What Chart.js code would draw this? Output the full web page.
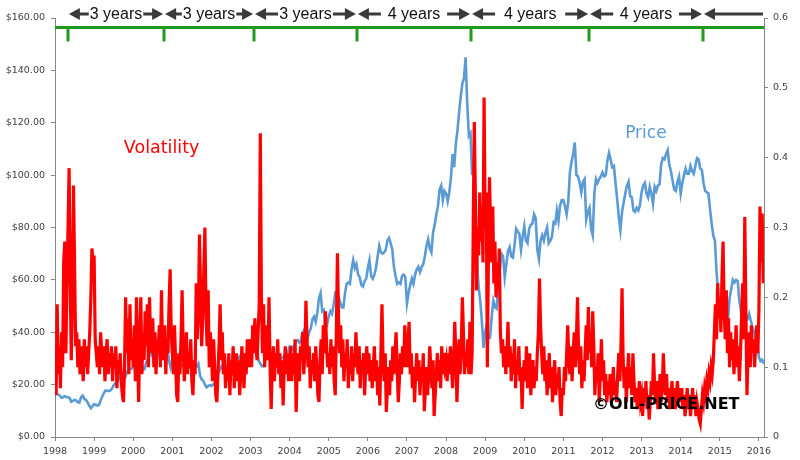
<!DOCTYPE html>
<html><head><meta charset="utf-8">
<script src="https://cdn.jsdelivr.net/npm/chart.js@4.4.1/dist/chart.umd.min.js"></script>
<style>html,body{margin:0;padding:0;background:#fff}#wrap{width:800px;height:460px}</style>
</head><body><div id="wrap"><canvas id="c" width="800" height="460"></canvas></div>
<script>
// ---- data ----
const startYear = 1998;
const endYear = 2016.13;
const pricePerYear = 24;   // semi-monthly samples
const volPerYear = 36;     // ~10-day samples

const priceValues = [
 17.5,16.5,16.2,15.8,15.0,15.2,15.6,15.3,15.2,14.8,13.5,13.8,14.2,14.0,13.3,13.2,15.2,15.8,14.5,14.2,13.2,12.0,11.0,11.8,
 12.5,12.3,12.0,12.2,14.0,15.5,16.8,17.8,17.7,17.5,17.8,18.5,19.8,20.5,21.0,21.8,23.5,24.2,22.0,22.5,24.5,25.8,26.2,26.0,
 26.8,28.0,29.5,30.0,31.5,28.0,25.5,26.0,28.5,29.5,31.5,32.0,30.5,28.5,31.0,32.0,35.0,32.5,33.0,33.5,34.5,34.0,29.0,26.5,
 29.5,29.8,29.5,27.5,27.0,26.5,27.5,28.0,28.5,28.2,27.8,26.5,26.5,26.2,27.5,27.0,28.0,23.5,22.0,21.5,20.0,19.0,19.5,19.8,
 19.5,20.0,20.5,21.2,24.0,25.5,26.8,26.0,27.5,26.5,25.5,26.0,27.0,27.0,28.0,29.0,29.5,30.5,29.0,27.5,26.5,26.5,28.5,31.0,
 32.0,34.0,35.5,37.5,35.0,29.0,28.0,27.0,27.0,29.5,30.5,30.0,31.0,30.5,31.5,31.5,28.5,27.5,30.5,30.0,30.5,31.0,31.5,32.5,
 34.5,34.5,33.5,35.0,36.5,37.0,36.0,37.0,40.0,41.0,38.5,37.5,40.0,41.5,45.0,46.0,44.0,47.5,53.0,55.0,48.0,48.5,41.5,43.0,
 46.0,48.0,47.0,50.5,55.0,54.5,53.5,51.5,49.5,49.5,55.0,58.5,59.0,58.5,64.0,67.5,64.5,66.0,62.0,61.0,58.0,57.5,59.5,60.5,
 64.5,67.5,61.5,60.5,62.0,64.5,69.0,73.0,70.5,70.0,70.5,71.5,75.0,76.0,74.0,71.5,65.0,61.5,58.5,59.0,58.5,61.5,62.0,61.0,
 51.0,55.0,58.0,60.5,58.5,62.0,64.0,65.0,63.0,65.0,66.0,69.0,73.0,75.5,72.0,70.5,78.0,81.0,85.0,88.0,94.5,96.0,90.5,94.0,
 93.0,90.0,93.5,99.0,108.0,103.0,112.0,117.0,124.0,130.0,135.0,137.0,145.0,127.0,115.0,116.0,100.0,106.0,80.0,67.0,57.0,52.0,44.0,34.0,
 40.0,43.0,37.5,38.0,46.0,52.0,49.5,49.0,58.0,64.0,70.0,69.0,61.0,66.0,71.0,72.5,69.0,68.5,73.0,79.5,78.5,77.5,71.5,76.5,
 80.5,75.0,74.0,79.5,81.0,81.5,85.0,83.5,71.5,68.0,75.0,77.0,75.0,78.0,80.0,74.0,75.0,76.5,82.0,81.5,86.5,82.5,88.5,90.5,
 90.5,88.0,85.0,90.0,101.0,105.0,108.0,112.5,100.0,99.5,97.0,93.5,97.5,98.5,83.0,86.0,87.5,79.5,77.0,93.0,98.5,97.0,98.5,99.5,
 101.0,99.5,100.0,105.5,108.5,106.0,103.0,103.5,97.0,91.0,84.0,79.0,86.0,89.5,93.0,96.0,97.5,92.0,91.5,86.5,86.0,87.5,86.5,88.5,
 93.5,96.0,97.0,93.0,91.5,95.5,93.0,89.0,95.5,94.0,96.0,96.5,104.0,106.5,106.0,108.0,109.5,104.0,101.5,98.0,94.5,94.0,97.5,99.5,
 93.0,97.0,100.0,102.5,100.5,100.5,103.5,101.5,100.5,103.5,106.5,106.0,102.5,102.0,97.0,94.0,93.5,93.0,87.0,81.5,77.0,75.0,63.0,55.0,
 46.0,45.5,51.0,50.0,48.0,45.0,53.0,56.5,60.0,59.0,60.0,59.5,52.0,48.0,42.5,40.0,45.5,45.0,47.0,44.5,42.0,40.5,36.5,36.0,
 30.5,29.0,29.5,28.0
];

const volatilityValues = [
 0.07,0.06,0.19,0.09,0.13,0.07,0.15,0.10,0.25,0.28,0.12,0.22,0.30,0.385,0.22,0.11,0.20,0.36,0.25,0.13,0.15,0.10,0.14,0.09,0.13,0.11,0.08,0.14,0.10,0.13,0.09,0.12,0.15,0.20,0.27,0.25,
 0.26,0.14,0.12,0.10,0.13,0.09,0.15,0.12,0.10,0.13,0.08,0.12,0.14,0.09,0.12,0.10,0.13,0.08,0.12,0.10,0.13,0.07,0.11,0.09,0.12,0.08,0.06,0.05,0.10,0.20,0.12,0.17,0.09,0.19,0.11,0.14,
 0.10,0.16,0.08,0.20,0.12,0.05,0.14,0.20,0.09,0.15,0.11,0.18,0.13,0.19,0.10,0.20,0.14,0.12,0.17,0.10,0.15,0.09,0.14,0.12,0.16,0.10,0.21,0.13,0.11,0.16,0.09,0.14,0.12,0.19,0.24,0.15,
 0.12,0.09,0.16,0.11,0.06,0.05,0.12,0.09,0.14,0.21,0.13,0.08,0.11,0.15,0.09,0.12,0.10,0.14,0.08,0.06,0.11,0.09,0.22,0.14,0.18,0.29,0.21,0.13,0.17,0.24,0.30,0.18,0.13,0.21,0.10,0.15,
 0.12,0.08,0.14,0.10,0.06,0.05,0.09,0.13,0.19,0.11,0.15,0.09,0.12,0.07,0.10,0.08,0.12,0.06,0.11,0.09,0.13,0.07,0.10,0.12,0.08,0.11,0.06,0.09,0.13,0.10,0.07,0.12,0.09,0.14,0.10,0.12,
 0.14,0.10,0.16,0.12,0.17,0.13,0.11,0.15,0.19,0.435,0.20,0.12,0.19,0.10,0.14,0.16,0.11,0.20,0.10,0.04,0.10,0.13,0.08,0.12,0.10,0.14,0.09,0.12,0.07,0.11,0.045,0.10,0.13,0.09,0.12,0.08,
 0.10,0.13,0.08,0.12,0.09,0.14,0.036,0.10,0.12,0.08,0.13,0.11,0.15,0.09,0.12,0.195,0.14,0.10,0.13,0.07,0.11,0.09,0.12,0.08,0.13,0.10,0.06,0.05,0.11,0.14,0.09,0.16,0.12,0.18,0.13,0.10,
 0.12,0.09,0.14,0.10,0.13,0.08,0.06,0.15,0.263,0.17,0.12,0.16,0.10,0.14,0.08,0.12,0.10,0.14,0.07,0.11,0.09,0.13,0.08,0.12,0.10,0.15,0.11,0.09,0.13,0.07,0.11,0.09,0.12,0.06,0.10,0.13,
 0.09,0.12,0.08,0.11,0.07,0.10,0.13,0.08,0.11,0.06,0.10,0.045,0.12,0.19,0.11,0.08,0.12,0.036,0.07,0.10,0.06,0.11,0.08,0.13,0.09,0.12,0.15,0.10,0.05,0.08,0.12,0.09,0.13,0.10,0.16,0.12,
 0.10,0.14,0.165,0.09,0.12,0.07,0.10,0.05,0.09,0.12,0.08,0.11,0.06,0.10,0.08,0.12,0.037,0.07,0.10,0.06,0.09,0.13,0.10,0.07,0.11,0.03,0.06,0.09,0.12,0.08,0.11,0.07,0.13,0.09,0.12,0.10,
 0.11,0.08,0.12,0.09,0.13,0.10,0.07,0.11,0.165,0.12,0.05,0.10,0.14,0.09,0.13,0.20,0.15,0.09,0.12,0.10,0.14,0.09,0.165,0.09,0.12,0.30,0.451,0.34,0.21,0.30,0.26,0.35,0.28,0.33,0.25,0.486,
 0.30,0.35,0.10,0.26,0.372,0.30,0.25,0.33,0.22,0.28,0.20,0.25,0.21,0.27,0.15,0.12,0.14,0.10,0.13,0.09,0.12,0.165,0.10,0.13,0.08,0.12,0.09,0.14,0.07,0.11,0.09,0.13,0.08,0.10,0.04,0.09,
 0.11,0.08,0.13,0.07,0.10,0.12,0.06,0.09,0.11,0.07,0.10,0.08,0.12,0.15,0.227,0.16,0.12,0.09,0.13,0.08,0.11,0.06,0.09,0.12,0.07,0.10,0.05,0.09,0.11,0.06,0.09,0.07,0.10,0.05,0.03,0.07,
 0.06,0.10,0.08,0.12,0.16,0.11,0.09,0.13,0.08,0.12,0.15,0.10,0.14,0.20,0.12,0.09,0.13,0.07,0.11,0.08,0.12,0.16,0.11,0.186,0.12,0.15,0.10,0.18,0.13,0.06,0.10,0.08,0.12,0.05,0.09,0.14,
 0.08,0.11,0.06,0.09,0.05,0.08,0.06,0.09,0.05,0.07,0.10,0.06,0.08,0.05,0.09,0.12,0.08,0.13,0.213,0.11,0.07,0.10,0.05,0.09,0.12,0.07,0.10,0.06,0.12,0.08,0.05,0.07,0.04,0.06,0.08,0.05,
 0.06,0.03,0.07,0.05,0.08,0.04,0.06,0.025,0.05,0.08,0.06,0.12,0.07,0.05,0.08,0.04,0.06,0.09,0.05,0.07,0.12,0.08,0.06,0.09,0.05,0.07,0.04,0.06,0.08,0.05,0.07,0.04,0.06,0.08,0.05,0.07,
 0.05,0.07,0.04,0.06,0.03,0.05,0.07,0.04,0.06,0.03,0.05,0.07,0.04,0.06,0.03,0.05,0.04,0.025,0.019,0.04,0.06,0.05,0.07,0.06,0.08,0.07,0.09,0.08,0.10,0.09,0.11,0.15,0.19,0.14,0.22,0.17,
 0.20,0.15,0.23,0.28,0.18,0.14,0.21,0.12,0.17,0.10,0.15,0.11,0.14,0.09,0.12,0.16,0.10,0.13,0.08,0.12,0.17,0.22,0.14,0.315,0.18,0.06,0.12,0.15,0.10,0.16,0.12,0.14,0.10,0.13,0.16,0.12,
 0.18,0.33,0.25,0.32,0.22
];

const cycleDates = [1998.33, 2000.79, 2003.09, 2005.72, 2008.64, 2011.66, 2014.57];
const cycleLabels = ['3 years', '3 years', '3 years', '4 years', '4 years', '4 years'];

// ---- plugin drawing labels / cycle markers ----
const GREEN = '#1F9A1F';
const ARROW = '#3a3a3a';

function drawArrow(ctx, tipX, tailX, y) {
  const dir = tailX > tipX ? 1 : -1;
  const head = 11, half = 6;
  ctx.fillStyle = ARROW;
  ctx.beginPath();
  ctx.moveTo(tipX, y);
  ctx.lineTo(tipX + dir * head, y - half);
  ctx.lineTo(tipX + dir * head, y + half);
  ctx.closePath();
  ctx.fill();
  ctx.fillRect(Math.min(tipX + dir * (head - 1), tailX), y - 1.5, Math.abs(tailX - (tipX + dir * (head - 1))), 3);
}

const annotations = {
  id: 'annotations',
  afterDatasetsDraw(chart) {
    const {ctx, chartArea, scales} = chart;
    const xs = scales.x, ys = scales.y;
    ctx.save();
    // series labels
    ctx.textBaseline = 'middle';
    ctx.textAlign = 'left';
    ctx.font = '17.5px "DejaVu Sans", Verdana, sans-serif';
    ctx.fillStyle = '#FF0000';
    ctx.fillText('Volatility', xs.getPixelForValue(1999.76), ys.getPixelForValue(110));
    ctx.font = '17px "DejaVu Sans", Verdana, sans-serif';
    ctx.fillStyle = '#5B9BD5';
    ctx.fillText('Price', xs.getPixelForValue(2012.58), ys.getPixelForValue(116));
    ctx.font = 'bold 16px "DejaVu Sans", Verdana, sans-serif';
    ctx.fillStyle = '#000';
    ctx.fillText('\u00A9OIL-PRICE.NET', xs.getPixelForValue(2011.76), ys.getPixelForValue(12.2));

    // green cycle line
    const gy = chartArea.top + 9.5;
    ctx.strokeStyle = GREEN;
    ctx.lineWidth = 3;
    ctx.beginPath();
    ctx.moveTo(chartArea.left, gy);
    ctx.lineTo(chartArea.right, gy);
    ctx.stroke();
    cycleDates.forEach(d => {
      const px = Math.round(xs.getPixelForValue(d));
      ctx.beginPath();
      ctx.moveTo(px, gy);
      ctx.lineTo(px, gy + 14);
      ctx.stroke();
    });

    // arrows and text
    const ay = chartArea.top - 4;
    ctx.font = '16px "Liberation Sans", Arial, sans-serif';
    ctx.textAlign = 'center';
    ctx.textBaseline = 'alphabetic';
    for (let i = 0; i < cycleLabels.length; i++) {
      const a = xs.getPixelForValue(cycleDates[i]);
      const b = xs.getPixelForValue(cycleDates[i + 1]);
      const mid = (a + b) / 2;
      const tw = ctx.measureText(cycleLabels[i]).width;
      const avail = (b - a - tw) / 2;
      const len = Math.min(23, avail - 2);
      ctx.fillStyle = '#111';
      ctx.fillText(cycleLabels[i], mid, chartArea.top + 1);
      drawArrow(ctx, a + 1, a + 1 + len, ay);
      drawArrow(ctx, b - 1, b - 1 - len, ay);
    }
    const last = xs.getPixelForValue(cycleDates[cycleDates.length - 1]);
    drawArrow(ctx, last + 1, chartArea.right - 1, ay);
    ctx.restore();
  }
};

const tickFont = {family: '"DejaVu Sans", Verdana, sans-serif', size: 9.5};
const tickColor = '#404040';
const axisColor = '#868686';

new Chart(document.getElementById('c'), {
  type: 'line',
  data: {
    datasets: [
      {
        label: 'Volatility',
        data: volatilityValues.map((v, i) => ({x: startYear + i / volPerYear, y: v})),
        yAxisID: 'y2',
        borderColor: '#FF0000',
        borderWidth: 3.2,
        pointRadius: 0,
        tension: 0,
        fill: false
      },
      {
        label: 'Price',
        data: priceValues.map((v, i) => ({x: startYear + i / pricePerYear, y: v})),
        yAxisID: 'y',
        borderColor: '#5B9BD5',
        borderWidth: 2.6,
        pointRadius: 0,
        tension: 0,
        fill: false
      }
    ]
  },
  options: {
    responsive: false,
    animation: false,
    devicePixelRatio: 1,
    layout: {padding: {top: 18, left: 0, right: 0, bottom: 0}},
    plugins: {legend: {display: false}, tooltip: {enabled: false}},
    scales: {
      x: {
        type: 'linear',
        min: startYear,
        max: endYear,
        ticks: {stepSize: 1, includeBounds: false, autoSkip: false, maxRotation: 0,
                callback: v => String(v), font: tickFont, color: tickColor, padding: 5},
        grid: {drawOnChartArea: false, drawTicks: true, tickLength: 4, color: axisColor},
        border: {color: axisColor},
        afterFit: s => { s.height = 23; }
      },
      y: {
        position: 'left',
        min: 0, max: 160,
        ticks: {stepSize: 20, callback: v => '$' + Number(v).toFixed(2), font: tickFont, color: tickColor, padding: 6},
        grid: {drawOnChartArea: false, drawTicks: true, tickLength: 4, color: axisColor},
        border: {color: axisColor},
        afterFit: s => { s.width = 55; }
      },
      y2: {
        position: 'right',
        min: 0, max: 0.6,
        ticks: {stepSize: 0.1, callback: v => (Math.abs(v) < 1e-9 ? '0' : Number(v).toFixed(1)), font: tickFont, color: tickColor, padding: 5},
        grid: {drawOnChartArea: false, drawTicks: true, tickLength: 4, color: axisColor},
        border: {color: axisColor},
        afterFit: s => { s.width = 36; }
      }
    }
  },
  plugins: [annotations]
});
</script>
</body></html>
